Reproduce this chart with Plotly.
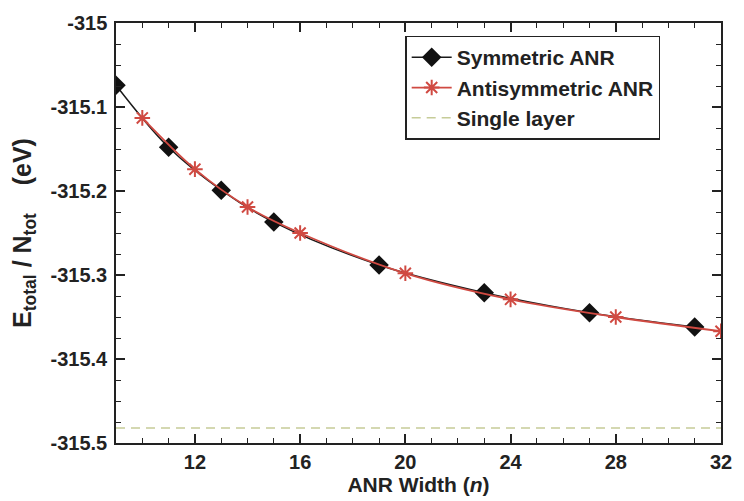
import plotly.graph_objects as go

# Data
sym_n = [9, 11, 13, 15, 19, 23, 27, 31]
sym_e = [-315.074, -315.148, -315.199, -315.237, -315.288, -315.321, -315.345, -315.362]
anti_n = [10, 12, 14, 16, 20, 24, 28, 32]
anti_e = [-315.113, -315.174, -315.219, -315.250, -315.298, -315.329, -315.350, -315.367]
single_layer_e = -315.482
single_n = [9, 32]

x_ticks = [12, 16, 20, 24, 28, 32]
y_ticks = [-315.0, -315.1, -315.2, -315.3, -315.4, -315.5]
y_tick_text = ["-315", "-315.1", "-315.2", "-315.3", "-315.4", "-315.5"]

FONT = "Liberation Sans, Arial, sans-serif"
RED = "#d04a42"

fig = go.Figure()
fig.add_trace(go.Scatter(
    x=sym_n, y=sym_e, mode="lines+markers", name="Symmetric ANR",
    line=dict(color="#1a1a1a", width=1.5, shape="spline"),
    marker=dict(symbol="diamond", size=15, color="#111111"),
))
fig.add_trace(go.Scatter(
    x=anti_n, y=anti_e, mode="lines+markers", name="Antisymmetric ANR",
    line=dict(color=RED, width=1.8, shape="spline"),
    marker=dict(symbol="asterisk-open", size=13, color=RED, line=dict(color=RED, width=2)),
))
fig.add_trace(go.Scatter(
    x=single_n, y=[single_layer_e] * len(single_n), mode="lines", name="Single layer",
    line=dict(color="#c6cc98", width=1.5, dash="9px,6px"),
))

axis_common = dict(
    showgrid=False, zeroline=False, showline=True, linecolor="#222", linewidth=1.5,
    mirror="ticks", ticks="inside", ticklen=9, tickwidth=1.5, tickcolor="#222",
    tickfont=dict(family=FONT, size=20, color="#222", weight="bold"),
)

fig.update_layout(
    width=744, height=501,
    margin=dict(l=116, r=13, t=15, b=51),
    paper_bgcolor="white", plot_bgcolor="white",
    font=dict(family=FONT, color="#222"),
    showlegend=True,
    legend=dict(
        x=0.478, y=0.970, xanchor="left", yanchor="top",
        bordercolor="#222", borderwidth=1.5, bgcolor="white",
        font=dict(family=FONT, size=21, color="#222", weight="bold"),
        tracegroupgap=0, itemwidth=40,
    ),
    xaxis=dict(
        range=[9, 32], tickvals=x_ticks, ticktext=[str(v) for v in x_ticks],
        minor=dict(dtick=1, tick0=0, ticks="inside", ticklen=5, tickwidth=1.2, tickcolor="#222"),
        title=dict(text="ANR Width (<i>n</i>)", font=dict(family=FONT, size=21, color="#222", weight="bold"), standoff=2),
        **axis_common,
    ),
    yaxis=dict(
        range=[-315.5, -315.0], tickvals=y_ticks, ticktext=y_tick_text,
        ticklabelstandoff=3,
        minor=dict(dtick=0.025, tick0=-315.0, ticks="inside", ticklen=5, tickwidth=1.2, tickcolor="#222"),
        title=dict(text="E<sub>total</sub> / N<sub>tot</sub>    (eV)", font=dict(family=FONT, size=25, color="#222", weight="bold"), standoff=12),
        **axis_common,
    ),
)

fig.write_html("out.html")
